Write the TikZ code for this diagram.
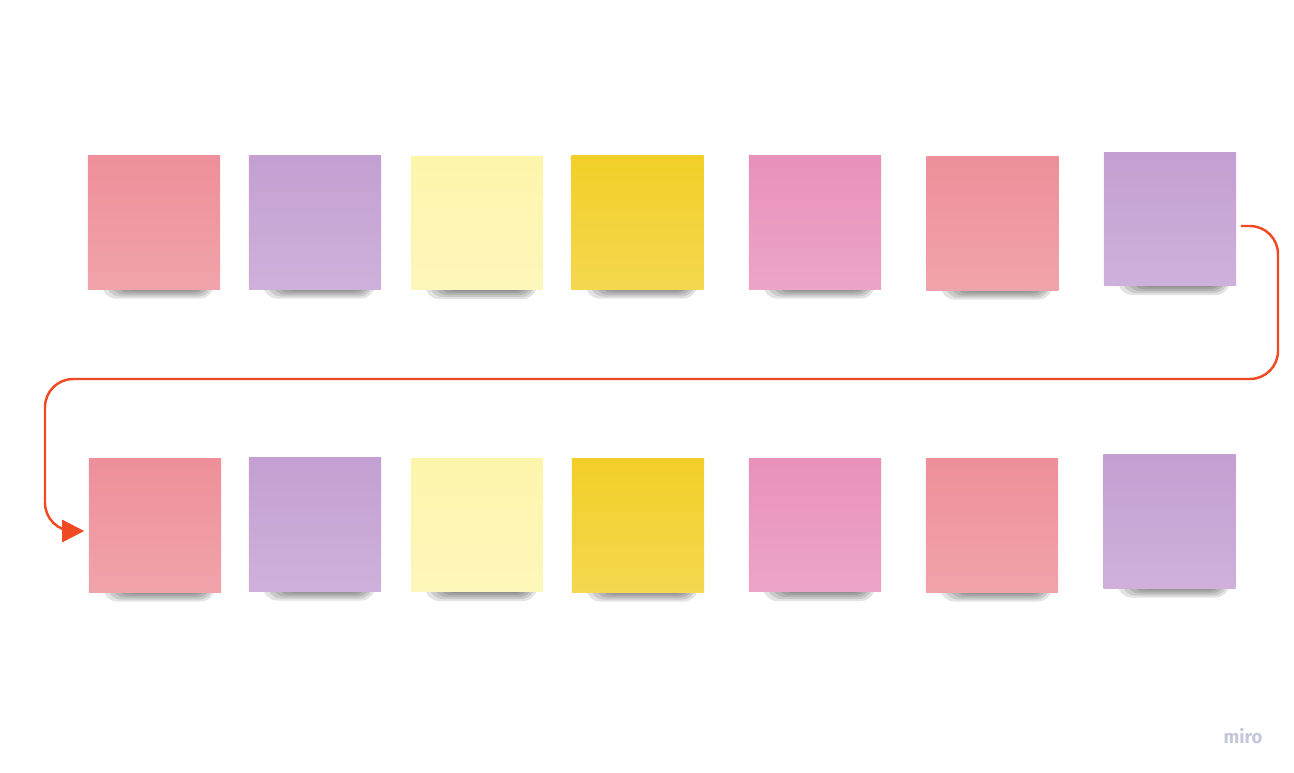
\documentclass[tikz,border=0pt]{standalone}
\usepackage{fontspec}
\usetikzlibrary{arrows.meta}
\usetikzlibrary{positioning}
\usepackage{xcolor}

\definecolor{noterose}{HTML}{EE8F99}
\definecolor{notelilac}{HTML}{C49FD2}
\definecolor{notecream}{HTML}{FEF5AC}
\definecolor{notegold}{HTML}{F2CF28}
\definecolor{notepink}{HTML}{E891BA}
\definecolor{linkred}{HTML}{F04A25}
\definecolor{brandgray}{HTML}{C4C7DA}
\newfontfamily\brandfont{Fira Sans}

\begin{document}
\begin{tikzpicture}[x=0.01cm, y=-0.01cm,
    note/.style={minimum width=1.32cm, minimum height=1.33cm, inner sep=0pt,
        top color=#1, bottom color=#1!82!white},
    link/.style={linkred, line width=0.7pt, rounded corners=8,
        -{Triangle[length=0.22cm, width=0.22cm]}}]

    % 1. Fix the page to the reference size
    \useasboundingbox (0,0) rectangle (1294,772);

    % 2. Shadows under the notes
    \foreach \cx/\cy in {154/222.5, 315/222.5, 477/223, 637.5/222.5, 815/222.5, 992.5/223.5, 1170/219,
                         155/525.5, 315/524.5, 477/525, 638/525.5, 815/525, 992/525.5, 1169.5/521.5} {
        \foreach \k in {0,...,5} {
            \fill[black, opacity=0.11, rounded corners=4]
                (\cx-52+4*\k, \cy+50) rectangle (\cx+60-2*\k, \cy+76-2*\k);
        }
    }

    % 3. Top row of notes
    \foreach \cx/\cy/\col/\i in {154/222.5/noterose/1, 315/222.5/notelilac/2, 477/223/notecream/3,
                                 637.5/222.5/notegold/4, 815/222.5/notepink/5, 992.5/223.5/noterose/6,
                                 1170/219/notelilac/7} {
        \node[note=\col] (t\i) at (\cx,\cy) {};
    }

    % 4. Bottom row of notes
    \foreach \cx/\cy/\col/\i in {155/525.5/noterose/1, 315/524.5/notelilac/2, 477/525/notecream/3,
                                 638/525.5/notegold/4, 815/525/notepink/5, 992/525.5/noterose/6,
                                 1169.5/521.5/notelilac/7} {
        \node[note=\col] (b\i) at (\cx,\cy) {};
    }

    % 5. Connector from the end of the top row to the start of the bottom row
    \draw[link] ([shift={(4,7)}]t7.east) -- (1278,226) -- (1278,379) -- (45,379) -- (45,531)
        -- ([shift={(-4,5.5)}]b1.west);

    % 6. Brand mark
    \node[brandgray, font=\brandfont\bfseries\fontsize{5.3}{6.3}\selectfont] (brand) at (1243,736) {miro};

\end{tikzpicture}
\end{document}
